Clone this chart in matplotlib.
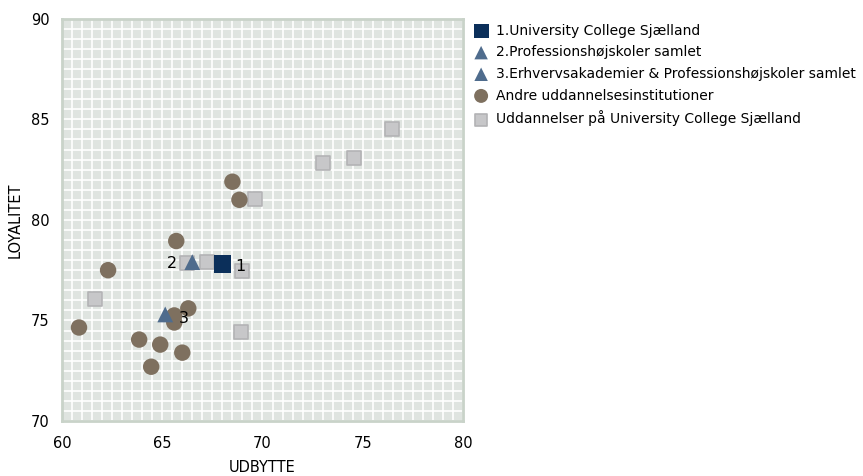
import matplotlib
matplotlib.use("Agg", force=True)
import matplotlib.pyplot as plt
import numpy as np

# UDBYTTE (x) / LOYALITET (y)
ucs_x = [68.0]
ucs_y = [77.8]
prof_x = [66.5]
prof_y = [77.9]
erhv_x = [65.15]
erhv_y = [75.3]
andre_x = [68.5, 68.85, 65.7, 62.3, 66.3, 65.6, 65.6, 60.85, 63.85, 64.9, 66.0, 64.45]
andre_y = [81.9, 81.0, 78.95, 77.5, 75.6, 75.25, 74.9, 74.65, 74.05, 73.8, 73.4, 72.7]
udd_x = [76.45, 73.0, 74.55, 69.65, 61.65, 69.0, 68.95, 66.25, 67.25]
udd_y = [84.5, 82.85, 83.1, 81.05, 76.05, 77.45, 74.45, 77.85, 77.9]

labels = [
    "1.University College Sjælland",
    "2.Professionshøjskoler samlet",
    "3.Erhvervsakademier & Professionshøjskoler samlet",
    "Andre uddannelsesinstitutioner",
    "Uddannelser på University College Sjælland",
]

plt.rcParams["font.family"] = ["DejaVu Sans"]

fig = plt.figure(figsize=(8.63, 4.76), dpi=100)
ax = fig.add_axes([0.0718, 0.1155, 0.4647, 0.845])
ax.set_facecolor("#dfe4e0")

h_udd = ax.scatter(udd_x, udd_y, marker="s", s=110, color="#c7c7c9",
                   edgecolors="#b3b3b5", linewidths=1.2, zorder=3)
h_andre = ax.scatter(andre_x, andre_y, marker="o", s=140, color="#7e705f",
                     edgecolors="none", zorder=4)
h_prof = ax.scatter(prof_x, prof_y, marker="^", s=130, color="#4f6c8d",
                    edgecolors="none", zorder=5)
h_erhv = ax.scatter(erhv_x, erhv_y, marker="^", s=130, color="#4f6c8d",
                    edgecolors="none", zorder=5)
h_ucs = ax.scatter(ucs_x, ucs_y, marker="s", s=160, color="#0b2f5a",
                   edgecolors="none", zorder=6)

ax.annotate("1", (ucs_x[0], ucs_y[0]), xytext=(9, -5), textcoords="offset points",
            fontsize=11.5, zorder=7)
ax.annotate("2", (prof_x[0], prof_y[0]), xytext=(-18, -4), textcoords="offset points",
            fontsize=11.5, zorder=7)
ax.annotate("3", (erhv_x[0], erhv_y[0]), xytext=(10, -6), textcoords="offset points",
            fontsize=11.5, zorder=7)

ax.set_xlim(60, 80)
ax.set_ylim(70, 90)
ax.set_xticks(np.arange(60, 81, 5))
ax.set_yticks(np.arange(70, 91, 5))
ax.set_xticks(np.arange(60, 80.01, 0.5), minor=True)
ax.set_yticks(np.arange(70, 90.01, 0.5), minor=True)
ax.grid(which="both", color="white", linewidth=1.2)
ax.set_axisbelow(True)
ax.tick_params(which="both", length=0, labelsize=10.5)
ax.tick_params(axis="x", pad=11)
ax.tick_params(axis="y", pad=9)
for spine in ax.spines.values():
    spine.set_color("#c9d3c9")
    spine.set_linewidth(2)

ax.set_xlabel("UDBYTTE", fontsize=10.5, labelpad=6)
ax.set_ylabel("LOYALITET", fontsize=10.5, labelpad=6)

fig.legend([h_ucs, h_prof, h_erhv, h_andre, h_udd], labels,
           loc="upper left", bbox_to_anchor=(0.543, 0.962), frameon=False,
           fontsize=10, handletextpad=0.6, labelspacing=0.55,
           handlelength=1.0, borderaxespad=0, scatterpoints=1, markerscale=0.85)

fig.savefig("out.png", dpi=100)
